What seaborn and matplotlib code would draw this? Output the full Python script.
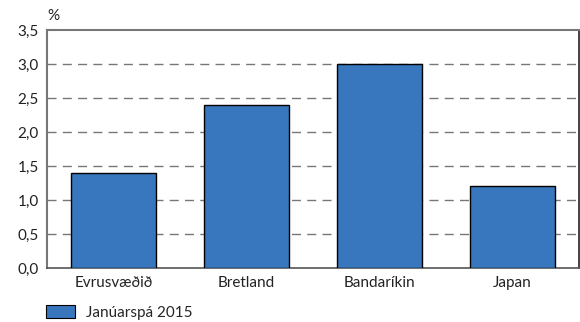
import matplotlib
matplotlib.use("Agg")
import matplotlib.pyplot as plt
import seaborn as sns
import pandas as pd
from matplotlib.patches import Patch

categories = ["Evrusvæðið", "Bretland", "Bandaríkin", "Japan"]
values = [1.4, 2.4, 3.0, 1.2]
series_name = "Janúarspá 2015"
yticks = [0.0, 0.5, 1.0, 1.5, 2.0, 2.5, 3.0, 3.5]

sns.set_style("white")
plt.rcParams['font.family'] = ['Lato', 'DejaVu Sans']

df = pd.DataFrame({"cat": categories, "val": values})

fig = plt.figure(figsize=(5.8, 3.22), dpi=100)
ax = fig.add_axes([47/580, 1-268/322, 532/580, 238/322])

color = "#3877bd"
sns.barplot(data=df, x="cat", y="val", ax=ax, color=color, width=0.64,
            edgecolor="black", linewidth=1.0, saturation=1, zorder=3)

ax.set_ylim(0, 3.5)
ax.set_xlim(-0.5, 3.5)
ax.set_yticks(yticks)
ax.set_yticklabels([f"{v:.1f}".replace(".", ",") for v in yticks], fontsize=11, color="#222222")
ax.set_xlabel("")
ax.set_ylabel("")
for y in yticks[1:-1]:
    ax.axhline(y, color="#777777", linestyle=(0, (6.5, 4.5)), linewidth=1.0, zorder=1)

ax.tick_params(axis="y", length=0, pad=6)
ax.tick_params(axis="x", which="major", length=0, labelsize=11, pad=6, labelcolor="#222222")
ax.set_xticks([-0.5, 0.5, 1.5, 2.5, 3.5], minor=True)
ax.tick_params(axis="x", which="minor", length=6, width=1.0, color="#333333", direction="out")

for s in ["left", "top"]:
    ax.spines[s].set_color("#777777")
    ax.spines[s].set_linewidth(1.5)
ax.spines["bottom"].set_color("#555555")
ax.spines["bottom"].set_linewidth(1.2)
ax.spines["right"].set_color("#222222")
ax.spines["right"].set_linewidth(1.2)
for s in ax.spines.values():
    s.set_visible(True)

fig.text(47/580, 1-16/322, "%", fontsize=11, color="#222222", ha="left", va="center")

handle = Patch(facecolor=color, edgecolor="black", linewidth=0.8)
fig.legend([handle], [series_name], loc="lower left", bbox_to_anchor=(40/580, -0.012),
           frameon=False, fontsize=11, handlelength=1.9, handleheight=0.9,
           handletextpad=0.7, borderaxespad=0.0)

fig.savefig("out.png", dpi=100)
